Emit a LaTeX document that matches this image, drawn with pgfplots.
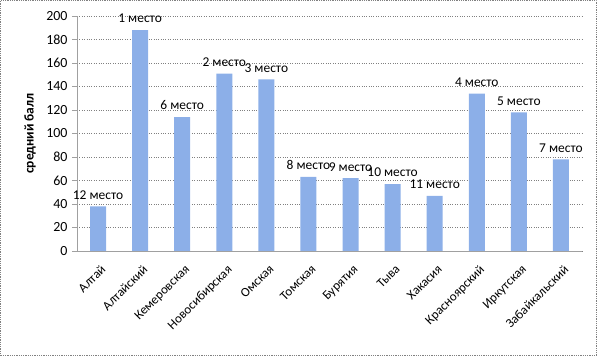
\documentclass[border=0pt]{standalone}
\usepackage{fontspec}
\setmainfont{Carlito}
\usepackage{pgfplots}
\pgfplotsset{compat=1.18}
\definecolor{barblue}{RGB}{140,175,232}
\definecolor{axgray}{RGB}{160,160,160}
\begin{document}
\begin{tikzpicture}
\useasboundingbox (0,0) rectangle (597bp,356bp);
\draw[gray, densely dotted, line width=0.8bp] (0.5bp,0.5bp) rectangle (596.5bp,355.5bp);
\begin{axis}[
  at={(77bp,105bp)}, anchor=south west,
  scale only axis, width=505bp, height=235bp,
  xmin=-0.5, xmax=11.5, ymin=0, ymax=200,
  ytick={0,20,...,200},
  xtick={0,...,11},
  xticklabels={Алтай,Алтайский,Кемеровская,Новосибирская,Омская,Томская,Бурятия,Тыва,Хакасия,Красноярский,Иркутская,Забайкальский},
  x tick label style={rotate=45, anchor=north east, font=\fontsize{13}{15}\selectfont, inner sep=1bp, yshift=-6bp, xshift=-3bp},
  y tick label style={font=\fontsize{14}{16}\selectfont, xshift=-1bp},
  /pgf/number format/assume math mode=true,
  major x tick style={draw=none},
  extra x ticks={-0.5,0.5,...,11.5},
  extra x tick labels={},
  extra x tick style={grid=none, major tick length=5bp, tick style={draw=axgray}},
  axis lines*=left,
  axis line style={draw=axgray, line width=0.8bp},
  ytick style={draw=axgray},
  tick align=outside,
  major tick length=5bp,
  ymajorgrids,
  grid style={gray, dotted, line width=0.5bp},
  ylabel={\bfseries средний балл},
  ylabel style={font=\fontsize{13.5}{15}\selectfont, at={(axis description cs:-0.093,0.5)}, rotate=0, anchor=center},
  ybar, bar width=16bp, bar shift=0pt,
  nodes near coords,
  point meta=explicit symbolic,
  every node near coord/.append style={font=\fontsize{13.5}{15}\selectfont, color=black, yshift=3.5bp},
]
\addplot[fill=barblue, draw=none] table[meta=lab, col sep=comma] {
x,y,lab
0,38,12 место
1,188,1 место
2,114,6 место
3,151,2 место
4,146,3 место
5,63,8 место
6,62,9 место
7,57,10 место
8,47,11 место
9,134,4 место
10,118,5 место
11,78,7 место
};
\end{axis}
\end{tikzpicture}
\end{document}
